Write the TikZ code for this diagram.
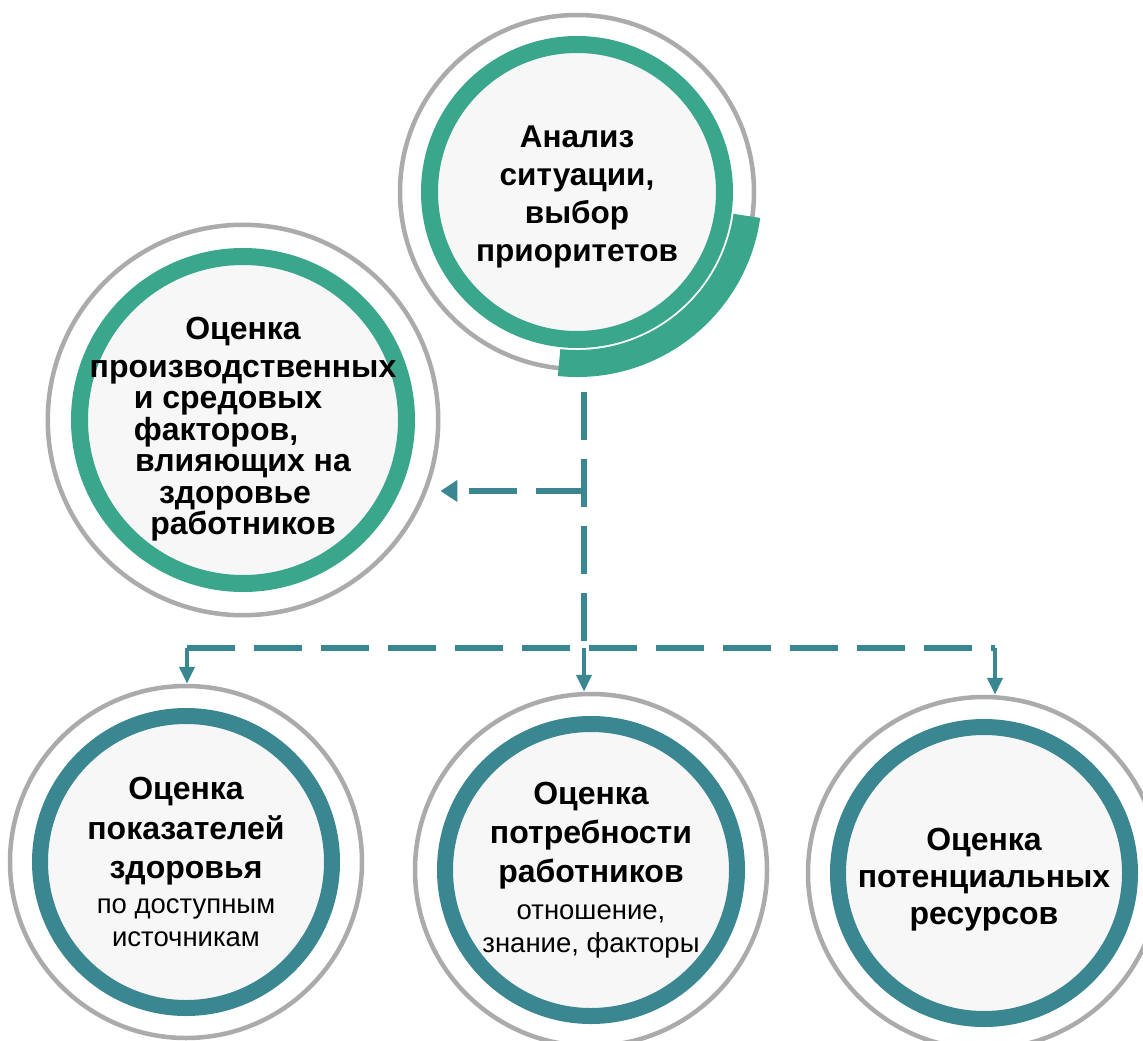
\documentclass[tikz,border=0pt]{standalone}
\usepackage{fontspec}
\setmainfont{Liberation Sans}
\usetikzlibrary{arrows.meta}
\usetikzlibrary{calc}
\definecolor{ringgray}{HTML}{ABABAB}
\definecolor{greenteal}{HTML}{3AA68C}
\definecolor{blueteal}{HTML}{3A8691}
\definecolor{innerfill}{HTML}{F7F7F7}
\tikzset{
  ring/.style n args={4}{circle, draw=ringgray, line width=4.5pt, fill=white,
    inner sep=0pt, minimum size=#1, align=center,
    path picture={\draw[draw=#4, line width=#3, fill=innerfill]
      (path picture bounding box.center) circle[radius=#2];}},
  dashline/.style={blueteal, line width=6pt, dash pattern=on 48pt off 19pt},
  stem/.style={blueteal, line width=4.5pt, -{Triangle[length=17pt,width=15pt]}},
  headfont/.style={font=\fontsize{31.5}{38}\selectfont\bfseries},
  sidefont/.style={font=\fontsize{32}{31.5}\selectfont\bfseries},
  lowfont/.style={font=\fontsize{32}{39.5}\selectfont\bfseries},
}
\newcommand{\thin}[1]{{\mdseries\fontsize{27.5}{33}\selectfont #1}}
\newcommand{\lift}[1]{\rule{0pt}{#1}}
\newcommand{\pad}[1]{\rule{#1}{0pt}}
\begin{document}
\begin{tikzpicture}[x=1pt,y=-1pt]
            \useasboundingbox (0,0) rectangle (1143,1041);
            % circles
            \node[ring={354pt}{147.5pt}{17pt}{greenteal}, headfont] (analysis) at (577,192)
                {\lift{31pt}Анализ\\ситуации,\\выбор\\приоритетов};
            \node[ring={388pt}{163.5pt}{17pt}{greenteal}, sidefont] (factors) at (243,420)
                {\lift{41pt}Оценка\\[6pt]производственных\\и средовых\pad{30pt}\\
                 факторов,\pad{54pt}\\влияющих на\\здоровье\pad{16pt}\\работников};
            \node[ring={352pt}{146pt}{16pt}{blueteal}, lowfont] (health) at (186,862)
                {Оценка\\показателей\\здоровья\\[-4.5pt]\thin{по доступным}\\[-6.5pt]\thin{источникам}};
            \node[ring={352pt}{146pt}{16pt}{blueteal}, lowfont, font=\fontsize{32}{39}\selectfont\bfseries] (needs) at (591,870)
                {Оценка\\потребности\\работников\\[-2pt]\thin{отношение,}\\[-6pt]\thin{знание, факторы}};
            \node[ring={352pt}{146pt}{16pt}{blueteal}, lowfont, font=\fontsize{32}{37}\selectfont\bfseries] (resources) at (984,873)
                {\lift{35pt}Оценка\\потенциальных\\ресурсов};
            % thick arc on the first circle
            \draw[greenteal, line width=27pt] ([shift={(-96:171.5pt)}]analysis.center)
                arc[start angle=-96, end angle=-8, radius=171.5pt];
            % connectors
            \coordinate (vtop) at (584,392);
            \coordinate (split) at (584,491);
            \coordinate (fork) at (584,648);
            \coordinate (forkL) at (187,648);
            \coordinate (forkR) at (995,648);
            \draw[dashline] (vtop) -- (fork);
            \draw[dashline, -{Triangle[length=17pt,width=21pt]}] (split) -- (split -| factors.east);
            \draw[dashline] (forkL) -- (forkR);
            \foreach \c/\n in {forkL/health,fork/needs,forkR/resources}
                \draw[stem] (\c) -- (\c |- \n.north);
\end{tikzpicture}
\end{document}
